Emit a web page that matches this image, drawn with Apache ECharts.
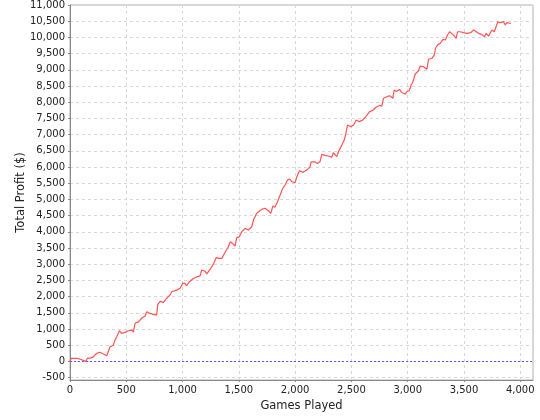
<!DOCTYPE html>
<html>
<head>
<meta charset="utf-8">
<script src="https://cdn.jsdelivr.net/npm/echarts@6/dist/echarts.min.js"></script>
<style>html,body{margin:0;padding:0;background:#fff}#c{width:540px;height:420px}</style>
</head>
<body>
<div id="c"></div>
<script>
const games = [0,10,25,40,55,70,85,143,154,180,207,237,267,296,326,340,356,385,400,415,439,459,489,519,548,563,578,607,637,667,681,711,741,770,779,800,830,859,889,904,948,978,1001,1022,1037,1061,1075,1096,1126,1156,1170,1200,1215,1230,1250,1274,1298,1320,1348,1363,1387,1407,1422,1440,1452,1467,1481,1505,1526,1556,1585,1600,1615,1630,1659,1685,1704,1733,1763,1784,1802,1820,1843,1867,1890,1911,1932,1950,1970,2000,2015,2039,2070,2104,2133,2142,2175,2198,2220,2237,2265,2296,2325,2340,2370,2385,2400,2415,2436,2451,2465,2495,2520,2542,2570,2600,2630,2660,2690,2720,2750,2770,2785,2815,2840,2868,2880,2900,2927,2950,2978,2995,3015,3031,3046,3067,3080,3096,3111,3140,3170,3185,3215,3236,3247,3265,3289,3313,3335,3354,3372,3390,3413,3431,3443,3465,3496,3525,3541,3560,3585,3610,3630,3660,3683,3697,3718,3733,3748,3769,3785,3801,3822,3837,3852,3866,3881,3896,3917];
const profit = [0,90,40,90,40,90,30,0,100,100,140,250,280,225,175,140,450,500,660,760,945,865,895,945,965,900,1175,1220,1330,1400,1530,1480,1450,1430,1750,1850,1820,1950,2050,2150,2200,2255,2410,2410,2335,2460,2430,2560,2610,2640,2820,2780,2700,2715,2870,3000,3200,3180,3180,3220,3420,3540,3690,3650,3590,3560,3820,3845,4000,4105,4055,4060,4155,4370,4570,4650,4690,4725,4650,4570,4795,4760,4930,5135,5340,5445,5600,5630,5545,5515,5700,5885,5835,5905,6010,6160,6160,6110,6160,6390,6360,6340,6300,6440,6320,6470,6575,6680,6830,7040,7295,7245,7295,7450,7400,7450,7560,7700,7750,7850,7900,7880,8120,8170,8200,8120,8375,8330,8395,8290,8250,8330,8360,8530,8630,8870,8840,8970,9115,9095,9015,9325,9355,9455,9665,9765,9820,9940,9920,10075,10175,10125,10045,9970,10175,10175,10145,10125,10075,10145,10230,10175,10125,10085,10020,10125,10040,10085,10230,10175,10200,10485,10455,10405,10485,10385,10455,10485,10430];
const xTicks = [0,500,1000,1500,2000,2500,3000,3500,4000];
const yTicks = [-500,0,500,1000,1500,2000,2500,3000,3500,4000,4500,5000,5500,6000,6500,7000,7500,8000,8500,9000,9500,10000,10500,11000];

const fmt = v => Number(v).toLocaleString('en-US');
const font = 'DejaVu Sans';
const chart = echarts.init(document.getElementById('c'), null, {renderer: 'canvas'});
const gridLine = {show: true, lineStyle: {color: '#d8d8d8', type: [3, 3], width: 1}};
chart.setOption({
  animation: false,
  backgroundColor: '#ffffff',
  grid: {left: 70, right: 7, top: 5, bottom: 40, show: true, borderColor: '#b0b0b0', borderWidth: 1, backgroundColor: '#ffffff'},
  xAxis: {
    type: 'value', min: 0, max: 4113,
    name: 'Games Played', nameLocation: 'middle', nameGap: 20, nameMoveOverlap: false,
    nameTextStyle: {fontFamily: font, fontSize: 11.5, color: '#222'},
    axisLine: {show: true, onZero: false, lineStyle: {color: '#888', width: 1}},
    axisTick: {show: true, length: 2, inside: false, customValues: xTicks, lineStyle: {color: '#888'}},
    axisLabel: {customValues: xTicks, formatter: fmt, fontFamily: font, fontSize: 10, color: '#222', margin: 5},
    splitLine: gridLine
  },
  yAxis: {
    type: 'value', min: -575, max: 11000,
    name: 'Total Profit ($)', nameLocation: 'middle', nameGap: 43, nameRotate: 90, nameMoveOverlap: false,
    nameTextStyle: {fontFamily: font, fontSize: 11.5, color: '#222'},
    axisLine: {show: true, onZero: false, lineStyle: {color: '#888', width: 1}},
    axisTick: {show: true, length: 2, inside: false, customValues: yTicks, lineStyle: {color: '#888'}},
    axisLabel: {customValues: yTicks, formatter: fmt, fontFamily: font, fontSize: 10, color: '#222', margin: 5},
    splitLine: gridLine
  },
  series: [{
    type: 'line',
    data: games.map((g, i) => [g, profit[i]]),
    showSymbol: false,
    lineStyle: {color: '#ff5555', width: 1.2},
    itemStyle: {color: '#ff5555'},
    markLine: {
      silent: true, symbol: 'none', label: {show: false},
      emphasis: {disabled: true},
      lineStyle: {color: '#5a5aff', type: [2, 2], width: 1, opacity: 1},
      data: [{yAxis: 0}]
    }
  }]
});
</script>
</body>
</html>
